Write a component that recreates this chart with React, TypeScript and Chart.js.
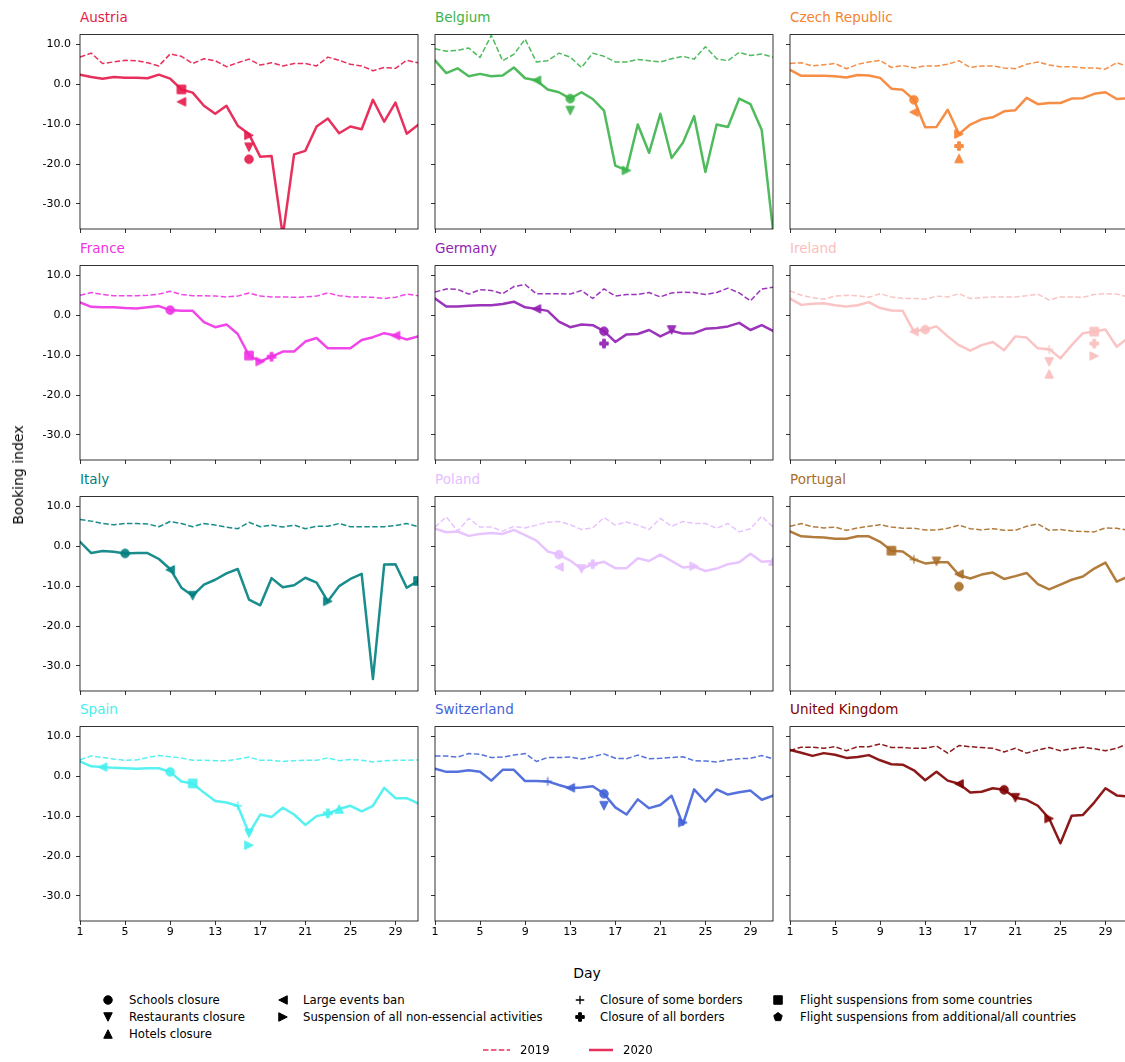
import React, { useEffect, useRef } from 'react';
import { Chart, registerables } from 'chart.js';

Chart.register(...registerables);

const FONT = '"DejaVu Sans", Verdana, sans-serif';

// ---------- data ----------
const days = [1, 2, 3, 4, 5, 6, 7, 8, 9, 10, 11, 12, 13, 14, 15, 16, 17, 18, 19, 20, 21, 22, 23, 24, 25, 26, 27, 28, 29, 30, 31];
const xTickValues = [1, 5, 9, 13, 17, 21, 25, 29];
const yTickValues = [10, 0, -10, -20, -30];
const yMin = -36.3;
const yMax = 12.45;

const countryNames = ['Austria', 'Belgium', 'Czech Republic', 'France', 'Germany', 'Ireland', 'Italy', 'Poland', 'Portugal', 'Spain', 'Switzerland', 'United Kingdom'];
const countryColors = ['#e6194b', '#3cb44b', '#f58231', '#f032e6', '#911eb4', '#fabebe', '#008080', '#e6beff', '#aa6e28', '#46f0f0', '#4363d8', '#800000'];

const austria2019 = [6.8, 7.8, 5.2, 5.6, 6.0, 5.9, 5.4, 4.6, 7.6, 7.0, 5.2, 6.4, 5.9, 4.4, 5.4, 6.3, 4.8, 5.4, 4.6, 5.2, 5.2, 4.6, 6.8, 6.0, 5.0, 4.6, 3.4, 4.2, 4.0, 6.0, 5.4];
const austria2020 = [2.4, 1.8, 1.4, 1.8, 1.6, 1.6, 1.5, 2.4, 1.4, -1.3, -2.1, -5.4, -7.4, -5.4, -10.4, -12.5, -18.2, -18.0, -38.0, -17.6, -16.7, -10.6, -8.6, -12.3, -10.6, -11.3, -3.9, -9.4, -4.6, -12.4, -10.2];
const austriaEvents = [[10, -1.3, 's'], [10, -4.4, '<'], [16, -12.8, '>'], [16, -15.8, 'v'], [16, -18.8, 'o']];

const belgium2019 = [8.9, 8.3, 8.5, 9.1, 6.7, 12.3, 5.9, 7.5, 11.3, 5.6, 5.9, 7.8, 6.8, 4.2, 7.8, 7.0, 5.6, 5.6, 6.2, 5.9, 5.6, 6.4, 7.0, 6.3, 9.4, 6.4, 5.9, 8.0, 7.2, 7.6, 6.8];
const belgium2020 = [6.0, 2.8, 4.0, 2.0, 2.6, 2.0, 2.2, 4.2, 1.5, 1.0, -1.3, -2.0, -3.6, -2.0, -3.7, -6.6, -20.4, -21.6, -10.1, -17.2, -7.4, -18.5, -14.7, -8.0, -22.0, -10.1, -10.7, -3.6, -5.0, -11.5, -36.6];
const belgiumEvents = [[10, 1.0, '<'], [13, -3.6, 'o'], [13, -6.6, 'v'], [18, -21.6, '>']];

const czech2019 = [5.2, 5.4, 4.6, 4.9, 5.2, 3.9, 5.0, 5.6, 6.0, 4.2, 4.7, 4.1, 4.6, 4.6, 5.0, 5.9, 4.2, 4.6, 4.6, 4.1, 3.9, 5.0, 5.6, 4.8, 4.4, 4.4, 4.1, 4.1, 3.8, 5.4, 4.4];
const czech2020 = [3.6, 2.1, 2.1, 2.1, 2.0, 1.7, 2.3, 2.2, 1.6, -1.1, -1.4, -3.9, -10.8, -10.7, -6.4, -12.5, -10.1, -8.8, -8.3, -6.8, -6.5, -3.4, -5.0, -4.7, -4.7, -3.6, -3.5, -2.4, -2.0, -3.7, -3.5];
const czechEvents = [[12, -3.9, 'o'], [12, -7.0, '<'], [16, -12.5, '>'], [16, -15.5, 'P'], [16, -18.6, '^']];

const france2019 = [5.0, 5.7, 5.2, 4.9, 4.9, 4.9, 5.0, 5.3, 6.0, 5.2, 4.9, 4.9, 4.8, 4.6, 4.8, 5.6, 4.8, 4.6, 4.6, 4.5, 4.6, 4.8, 5.6, 4.9, 4.6, 4.6, 4.5, 4.2, 4.5, 5.3, 4.9];
const france2020 = [3.2, 2.1, 2.0, 2.0, 1.8, 1.7, 2.0, 2.3, 1.3, 1.1, 1.1, -1.7, -3.0, -2.3, -4.7, -10.1, -11.6, -10.4, -9.1, -9.1, -6.6, -5.7, -8.3, -8.3, -8.3, -6.2, -5.5, -4.5, -5.1, -6.1, -5.3];
const franceEvents = [[9, 1.3, 'o'], [16, -10.1, 's'], [17, -11.6, '>'], [18, -10.4, 'P'], [29, -5.1, '<']];

const germany2019 = [5.8, 6.6, 6.5, 5.3, 6.4, 6.2, 5.4, 7.2, 7.7, 5.4, 5.4, 5.4, 5.3, 6.2, 4.2, 6.6, 4.8, 5.2, 5.2, 5.7, 4.6, 5.6, 5.8, 5.7, 5.2, 5.7, 6.8, 5.6, 3.6, 6.6, 7.0];
const germany2020 = [4.2, 2.2, 2.2, 2.4, 2.5, 2.5, 2.8, 3.4, 2.0, 1.6, 1.1, -1.6, -3.0, -2.3, -2.5, -4.0, -6.7, -4.8, -4.7, -3.7, -5.3, -3.9, -4.6, -4.5, -3.4, -3.2, -2.8, -1.9, -3.7, -2.5, -3.9];
const germanyEvents = [[10, 1.6, '<'], [16, -4.0, 'o'], [16, -7.1, 'P'], [22, -3.7, 'v']];

const ireland2019 = [6.1, 5.0, 4.4, 4.0, 4.8, 5.0, 4.9, 4.5, 5.4, 4.6, 4.2, 4.2, 4.0, 4.8, 4.6, 5.4, 4.2, 4.4, 4.6, 4.6, 4.6, 4.9, 5.3, 3.8, 4.6, 4.6, 4.5, 5.2, 5.4, 5.3, 4.6];
const ireland2020 = [4.2, 2.6, 2.9, 3.0, 2.5, 2.2, 2.5, 3.3, 1.8, 1.2, 1.1, -4.1, -3.6, -2.8, -5.3, -7.5, -8.9, -7.5, -6.7, -8.8, -5.3, -5.6, -8.3, -8.5, -10.8, -7.5, -4.5, -4.1, -3.6, -7.9, -5.7];
const irelandEvents = [[12, -4.1, '<'], [13, -3.6, 'o'], [24, -8.6, '+'], [24, -11.7, 'v'], [24, -14.7, '^'], [28, -4.1, 's'], [28, -7.1, 'P'], [28, -10.2, '>']];

const italy2019 = [6.7, 6.3, 5.7, 5.4, 5.7, 5.7, 5.6, 4.9, 6.2, 5.7, 4.9, 5.7, 5.3, 4.8, 4.4, 6.0, 4.9, 5.3, 4.8, 5.3, 4.4, 5.0, 5.0, 5.7, 4.9, 4.9, 4.9, 4.9, 5.2, 5.7, 4.9];
const italy2020 = [1.1, -1.7, -1.2, -1.4, -1.8, -1.7, -1.7, -3.2, -5.7, -10.4, -12.4, -9.6, -8.4, -6.8, -5.7, -13.4, -14.8, -8.0, -10.3, -9.8, -7.9, -9.1, -13.8, -10.0, -8.2, -6.9, -33.3, -4.6, -4.5, -10.4, -8.7];
const italyEvents = [[5, -1.8, 'o'], [9, -5.9, '<'], [11, -12.4, 'v'], [23, -13.8, '>'], [31, -8.7, 's']];

const poland2019 = [4.8, 7.4, 3.8, 7.0, 4.8, 4.8, 3.8, 5.0, 4.6, 5.3, 6.0, 6.2, 5.4, 4.2, 4.6, 7.2, 5.3, 6.1, 5.3, 4.2, 7.0, 5.0, 6.2, 5.7, 5.7, 4.5, 5.7, 3.6, 4.4, 7.5, 4.8];
const poland2020 = [4.4, 3.5, 3.7, 2.6, 3.1, 3.3, 3.1, 4.1, 2.8, 1.4, -1.3, -2.1, -3.6, -5.7, -4.5, -3.9, -5.5, -5.5, -3.0, -3.7, -2.1, -3.7, -5.3, -5.1, -6.2, -5.6, -4.5, -4.0, -1.9, -3.9, -3.7];
const polandEvents = [[12, -2.1, 'o'], [12, -5.2, '<'], [14, -5.7, 'v'], [15, -4.5, 'P'], [24, -5.0, '>'], [31, -3.7, '^']];

const portugal2019 = [5.0, 5.7, 4.9, 4.6, 4.8, 4.0, 4.6, 5.0, 5.4, 4.8, 4.5, 4.5, 4.1, 4.1, 4.5, 5.3, 4.4, 4.1, 4.4, 4.0, 4.0, 5.0, 5.6, 4.0, 4.2, 3.8, 3.7, 3.6, 4.6, 4.5, 4.0];
const portugal2020 = [3.7, 2.5, 2.3, 2.2, 1.9, 1.9, 2.5, 2.5, 1.1, -1.1, -1.3, -3.3, -4.3, -4.0, -4.0, -7.2, -8.1, -7.1, -6.6, -8.2, -7.5, -6.7, -9.5, -10.8, -9.6, -8.4, -7.6, -5.6, -4.1, -8.9, -7.6];
const portugalEvents = [[10, -1.1, 's'], [12, -3.3, '+'], [14, -3.8, 'v'], [16, -7.0, '<'], [16, -10.1, 'o']];

const spain2019 = [4.1, 5.1, 4.7, 4.3, 4.0, 4.1, 4.7, 5.2, 4.9, 4.6, 4.0, 4.0, 3.9, 3.9, 4.3, 4.8, 4.0, 4.0, 3.7, 3.9, 4.0, 4.0, 4.6, 3.9, 4.2, 4.0, 3.6, 3.9, 4.0, 4.0, 4.1];
const spain2020 = [3.7, 2.5, 2.3, 2.1, 2.0, 1.9, 2.0, 2.0, 1.1, -1.3, -1.8, -4.1, -6.2, -6.6, -7.4, -14.3, -9.6, -10.2, -7.9, -9.6, -12.2, -10.0, -9.4, -8.2, -7.4, -8.8, -7.4, -2.9, -5.5, -5.5, -6.8];
const spainEvents = [[3, 2.3, '<'], [9, 1.1, 'o'], [11, -1.8, 's'], [15, -7.4, '+'], [16, -14.3, 'v'], [16, -17.3, '>'], [23, -9.3, 'P'], [24, -8.2, '^']];

const switzerland2019 = [5.1, 5.1, 4.8, 5.7, 5.5, 4.7, 4.8, 5.3, 5.7, 3.7, 4.7, 4.7, 4.8, 4.3, 4.9, 5.6, 4.5, 4.4, 5.3, 4.4, 4.5, 4.7, 4.9, 3.9, 3.8, 3.6, 4.1, 4.4, 4.5, 5.2, 4.4];
const switzerland2020 = [1.9, 1.1, 1.1, 1.5, 1.1, -1.1, 1.6, 1.6, -1.2, -1.2, -1.3, -2.2, -3.0, -2.8, -2.5, -4.4, -7.8, -9.6, -5.8, -8.0, -7.2, -4.9, -12.1, -3.3, -6.4, -3.3, -4.6, -4.0, -3.6, -5.9, -4.9];
const switzerlandEvents = [[11, -1.3, '+'], [13, -2.9, '<'], [16, -4.4, 'o'], [16, -7.4, 'v'], [23, -11.6, '>']];

const uk2019 = [6.4, 7.3, 7.3, 7.0, 7.4, 6.4, 7.4, 7.4, 8.1, 7.2, 7.2, 7.0, 7.0, 7.6, 5.8, 7.7, 7.4, 7.2, 7.0, 6.1, 7.0, 5.8, 6.6, 7.2, 6.4, 6.9, 7.3, 6.9, 6.4, 7.0, 8.2];
const uk2020 = [6.6, 5.9, 5.1, 5.8, 5.4, 4.6, 4.8, 5.3, 4.0, 3.0, 2.9, 1.5, -1.0, 1.1, -1.1, -1.9, -4.1, -3.9, -3.0, -3.4, -5.4, -5.9, -7.4, -10.6, -16.8, -9.9, -9.7, -6.6, -3.0, -4.8, -5.1];
const ukEvents = [[16, -1.9, '<'], [20, -3.4, 'o'], [21, -5.4, 'v'], [24, -10.6, '>']];

const values2019 = [austria2019, belgium2019, czech2019, france2019, germany2019, ireland2019, italy2019, poland2019, portugal2019, spain2019, switzerland2019, uk2019];
const values2020 = [austria2020, belgium2020, czech2020, france2020, germany2020, ireland2020, italy2020, poland2020, portugal2020, spain2020, switzerland2020, uk2020];
const countryEvents = [austriaEvents, belgiumEvents, czechEvents, franceEvents, germanyEvents, irelandEvents, italyEvents, polandEvents, portugalEvents, spainEvents, switzerlandEvents, ukEvents];

const eventTypes = ['o', 'v', '^', '<', '>', '+', 'P', 's', 'p'];
const eventLabels = ['Schools closure', 'Restaurants closure', 'Hotels closure', 'Large events ban', 'Suspension of all non-essencial activities', 'Closure of some borders', 'Closure of all borders', 'Flight suspensions from some countries', 'Flight suspensions from additional/all countries'];
const yearLabels = ['2019', '2020'];

// ---------- layout ----------
const PLOT_LEFT = [80, 435, 790];
const PLOT_TOP = [29, 260, 491, 721];
const PLOT_W = 338;
const PLOT_H = 200;
const PAD_L = 60;
const PAD_T = 6;
const PAD_R = 8;
const PAD_B = 26;
const CANVAS_W = PAD_L + PLOT_W + PAD_R;
const CANVAS_H = PAD_T + PLOT_H + PAD_B;

function withAlpha(hex: string, a: number) {
  const n = parseInt(hex.slice(1), 16);
  return `rgba(${(n >> 16) & 255},${(n >> 8) & 255},${n & 255},${a})`;
}

function drawMarker(ctx: CanvasRenderingContext2D, type: string, cx: number, cy: number, size: number, color: string) {
  const h = size / 2;
  ctx.save();
  ctx.fillStyle = color;
  ctx.strokeStyle = color;
  ctx.lineWidth = 1;
  ctx.lineJoin = 'miter';
  ctx.beginPath();
  if (type === 'o') {
    ctx.arc(cx, cy, h, 0, Math.PI * 2);
  } else if (type === 's') {
    ctx.rect(cx - h, cy - h, size, size);
  } else if (type === '^') {
    ctx.moveTo(cx, cy - h); ctx.lineTo(cx + h, cy + h); ctx.lineTo(cx - h, cy + h); ctx.closePath();
  } else if (type === 'v') {
    ctx.moveTo(cx, cy + h); ctx.lineTo(cx - h, cy - h); ctx.lineTo(cx + h, cy - h); ctx.closePath();
  } else if (type === '<') {
    ctx.moveTo(cx - h, cy); ctx.lineTo(cx + h, cy - h); ctx.lineTo(cx + h, cy + h); ctx.closePath();
  } else if (type === '>') {
    ctx.moveTo(cx + h, cy); ctx.lineTo(cx - h, cy + h); ctx.lineTo(cx - h, cy - h); ctx.closePath();
  } else if (type === 'P') {
    const a = size / 6;
    const pts = [[-a, -3 * a], [a, -3 * a], [a, -a], [3 * a, -a], [3 * a, a], [a, a], [a, 3 * a], [-a, 3 * a], [-a, a], [-3 * a, a], [-3 * a, -a], [-a, -a]];
    pts.forEach((p, i) => (i === 0 ? ctx.moveTo(cx + p[0], cy + p[1]) : ctx.lineTo(cx + p[0], cy + p[1])));
    ctx.closePath();
  } else if (type === 'p') {
    for (let k = 0; k < 5; k++) {
      const ang = -Math.PI / 2 + (k * 2 * Math.PI) / 5;
      const px = cx + h * 1.05 * Math.cos(ang);
      const py = cy + h * 1.05 * Math.sin(ang);
      if (k === 0) ctx.moveTo(px, py); else ctx.lineTo(px, py);
    }
    ctx.closePath();
  } else if (type === '+') {
    ctx.moveTo(cx - h, cy); ctx.lineTo(cx + h, cy);
    ctx.moveTo(cx, cy - h); ctx.lineTo(cx, cy + h);
  }
  if (type === '+') {
    ctx.lineWidth = 1.3;
    ctx.stroke();
  } else {
    ctx.fill();
    ctx.stroke();
  }
  ctx.restore();
}

function markerImage(type: string, color: string) {
  const c = document.createElement('canvas');
  c.width = 16;
  c.height = 16;
  const ctx = c.getContext('2d') as CanvasRenderingContext2D;
  drawMarker(ctx, type, 8, 8, 8.5, color);
  return c;
}

const framePlugin = {
  id: 'frame',
  afterDraw(chart: any) {
    const { ctx, chartArea: a } = chart;
    ctx.save();
    ctx.strokeStyle = '#000';
    ctx.lineWidth = 0.8;
    ctx.strokeRect(a.left, a.top, a.right - a.left, a.bottom - a.top);
    ctx.restore();
  },
};

function Panel({ index }: { index: number }) {
  const ref = useRef<HTMLCanvasElement | null>(null);
  const row = Math.floor(index / 3);
  const col = index % 3;
  const showX = row === 3;
  const showY = col === 0;

  useEffect(() => {
    const color = countryColors[index];
    const lineColor = withAlpha(color, 0.9);
    const ev = countryEvents[index];
    const tickFont = { family: FONT, size: 11 };
    const chart = new Chart(ref.current as HTMLCanvasElement, {
      type: 'line',
      data: {
        datasets: [
          {
            label: yearLabels[0],
            data: days.map((d, i) => ({ x: d, y: values2019[index][i] })),
            borderColor: lineColor,
            borderWidth: 1.5,
            borderDash: [5.5, 2.4],
            borderJoinStyle: 'round',
            pointRadius: 0,
            tension: 0,
            fill: false,
            clip: 0,
            order: 2,
          },
          {
            label: yearLabels[1],
            data: days.map((d, i) => ({ x: d, y: values2020[index][i] })),
            borderColor: lineColor,
            borderWidth: 2.5,
            borderJoinStyle: 'round',
            borderCapStyle: 'round',
            pointRadius: 0,
            tension: 0,
            fill: false,
            clip: 0,
            order: 1,
          },
          {
            label: 'events',
            data: ev.map((e) => ({ x: e[0] as number, y: e[1] as number })),
            showLine: false,
            pointStyle: ev.map((e) => markerImage(e[2] as string, lineColor)),
            pointRadius: 5,
            clip: 0,
            order: 0,
          },
        ],
      } as any,
      options: {
        responsive: false,
        animation: false,
        devicePixelRatio: 1,
        events: [],
        layout: { padding: { top: PAD_T, right: PAD_R, left: 0, bottom: 0 } },
        plugins: { legend: { display: false }, tooltip: { enabled: false }, title: { display: false } },
        scales: {
          x: {
            type: 'linear',
            min: 1,
            max: 31,
            afterBuildTicks: (axis: any) => {
              axis.ticks = xTickValues.map((v) => ({ value: v }));
            },
            afterFit: (axis: any) => {
              axis.height = PAD_B;
            },
            grid: { drawOnChartArea: false, drawTicks: true, tickLength: 4, color: '#000', lineWidth: 0.8 },
            border: { display: false },
            ticks: {
              callback: (v: any) => (showX ? String(v) : ''),
              font: tickFont,
              color: '#000',
              padding: 1,
              maxRotation: 0,
              autoSkip: false,
            },
          },
          y: {
            type: 'linear',
            min: yMin,
            max: yMax,
            afterBuildTicks: (axis: any) => {
              axis.ticks = yTickValues.map((v) => ({ value: v }));
            },
            afterFit: (axis: any) => {
              axis.width = PAD_L;
            },
            grid: { drawOnChartArea: false, drawTicks: true, tickLength: 4, color: '#000', lineWidth: 0.8 },
            border: { display: false },
            ticks: {
              callback: (v: any) => (showY ? Number(v).toFixed(1) : ''),
              font: tickFont,
              color: '#000',
              padding: 5,
              autoSkip: false,
            },
          },
        },
      } as any,
      plugins: [framePlugin],
    });
    return () => chart.destroy();
  }, [index]);

  return (
    <canvas
      ref={ref}
      width={CANVAS_W}
      height={CANVAS_H}
      style={{ position: 'absolute', left: PLOT_LEFT[col] - PAD_L, top: PLOT_TOP[row] - PAD_T, width: CANVAS_W, height: CANVAS_H }}
    />
  );
}

function LegendMarker({ type, x, y }: { type: string; x: number; y: number }) {
  const ref = useRef<HTMLCanvasElement | null>(null);
  useEffect(() => {
    const c = ref.current as HTMLCanvasElement;
    const ctx = c.getContext('2d') as CanvasRenderingContext2D;
    ctx.clearRect(0, 0, 16, 16);
    drawMarker(ctx, type, 8, 8, 8.5, '#000');
  }, [type]);
  return <canvas ref={ref} width={16} height={16} style={{ position: 'absolute', left: x - 8, top: y - 8 }} />;
}

const textStyle: React.CSSProperties = {
  position: 'absolute',
  fontFamily: FONT,
  whiteSpace: 'nowrap',
  color: '#000',
};

export default function App() {
  const legendMarkerX = [108, 283, 580, 778];
  const legendTextX = [129, 303, 600, 800];
  const legendRowY = [1000, 1017, 1034];
  const legendPlacement = [
    [0, 0], [0, 1], [0, 2],
    [1, 0], [1, 1],
    [2, 0], [2, 1],
    [3, 0], [3, 1],
  ];
  const lineColor = withAlpha(countryColors[0], 0.9);

  return (
    <div style={{ position: 'absolute', left: 0, top: 0, width: 1125, height: 1062, overflow: 'hidden', background: '#fff' }}>
      {countryNames.map((name, i) => {
        const row = Math.floor(i / 3);
        const col = i % 3;
        return (
          <div
            key={'t' + i}
            style={{ ...textStyle, left: PLOT_LEFT[col], top: PLOT_TOP[row] - 20, fontSize: 13.5, lineHeight: '16px', color: countryColors[i] }}
          >
            {name}
          </div>
        );
      })}
      {countryNames.map((_, i) => (
        <Panel key={'p' + i} index={i} />
      ))}
      <div
        style={{ ...textStyle, left: 18, top: 475, fontSize: 14, lineHeight: '16px', transform: 'translate(-50%, -50%) rotate(-90deg)' }}
      >
        Booking index
      </div>
      <div style={{ ...textStyle, left: 587, top: 973, fontSize: 14, lineHeight: '16px', transform: 'translate(-50%, -50%)' }}>Day</div>

      {eventTypes.map((t, i) => {
        const [c, r] = legendPlacement[i];
        return (
          <React.Fragment key={'l' + i}>
            <LegendMarker type={t} x={legendMarkerX[c]} y={legendRowY[r]} />
            <div style={{ ...textStyle, left: legendTextX[c], top: legendRowY[r] - 8, fontSize: 11.7, lineHeight: '16px' }}>{eventLabels[i]}</div>
          </React.Fragment>
        );
      })}

      <svg width={1125} height={1062} style={{ position: 'absolute', left: 0, top: 0, pointerEvents: 'none' }}>
        <line x1={483} y1={1050} x2={510} y2={1050} stroke={lineColor} strokeWidth={1.5} strokeDasharray="5.5 2.4" />
        <line x1={589} y1={1050} x2={613} y2={1050} stroke={lineColor} strokeWidth={2.5} />
      </svg>
      <div style={{ ...textStyle, left: 520, top: 1042, fontSize: 11.7, lineHeight: '16px' }}>{yearLabels[0]}</div>
      <div style={{ ...textStyle, left: 623, top: 1042, fontSize: 11.7, lineHeight: '16px' }}>{yearLabels[1]}</div>
    </div>
  );
}
